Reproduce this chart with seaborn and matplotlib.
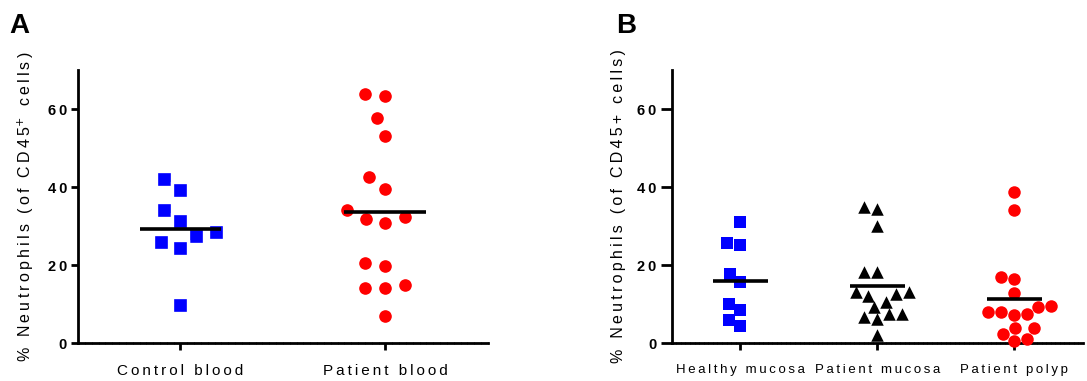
import pandas as pd
import matplotlib.pyplot as plt
import seaborn as sns
from matplotlib.ticker import MultipleLocator

# Panel A: neutrophils in blood
control_blood = [42.0, 39.2, 34.1, 31.4, 28.4, 27.4, 25.9, 24.3, 9.7]
patient_blood = [63.9, 63.4, 57.7, 53.2, 42.5, 39.5, 34.0, 32.3, 31.9, 30.8,
                 20.4, 19.7, 14.8, 14.1, 14.1, 7.0]

# Panel B: neutrophils in tissue
healthy_mucosa = [31.0, 25.7, 25.1, 17.6, 15.6, 10.0, 8.5, 5.9, 4.4]
patient_mucosa = [35.0, 34.3, 30.1, 18.1, 18.1, 13.2, 13.0, 12.5, 12.1, 10.6,
                  9.2, 7.4, 7.4, 6.7, 6.1, 2.1]
patient_polyp = [38.6, 34.1, 17.0, 16.3, 12.7, 9.6, 9.3, 8.0, 8.0, 7.4, 7.2,
                 3.9, 3.8, 2.4, 1.1, 0.6]

labels_a = ['Control blood', 'Patient blood']
labels_b = ['Healthy mucosa', 'Patient mucosa', 'Patient polyp']
yticks = [0, 20, 40, 60]

sns.set_style('ticks')
plt.rcParams['font.family'] = ['Liberation Sans', 'DejaVu Sans']
for key in ['text.color', 'axes.labelcolor', 'xtick.color', 'ytick.color',
            'axes.edgecolor']:
    plt.rcParams[key] = 'black'

THIN = '\u2009'


def spaced(s):
    # GraphPad-style wide letter spacing
    return THIN.join(s)


def make_df(groups, labels):
    rows = []
    for lab, vals in zip(labels, groups):
        for v in vals:
            rows.append({'group': lab, 'value': v})
    return pd.DataFrame(rows)


df_a = make_df([control_blood, patient_blood], labels_a)
df_b = make_df([healthy_mucosa, patient_mucosa, patient_polyp], labels_b)

styles_a = {'Control blood': ('s', '#0000ff'), 'Patient blood': ('o', '#ff0000')}
styles_b = {'Healthy mucosa': ('s', '#0000ff'),
            'Patient mucosa': ('^', 'black'),
            'Patient polyp': ('o', '#ff0000')}

fig = plt.figure(figsize=(10.87, 3.81), dpi=100)
ax_a = fig.add_axes([0.0718, 0.0997, 0.377, 0.7165])
ax_b = fig.add_axes([0.618, 0.0997, 0.378, 0.7165])


def draw_panel(ax, df, labels, styles, ylabel, ytick_len, xfs, msize, edge):
    for lab in labels:
        marker, color = styles[lab]
        sns.swarmplot(data=df[df['group'] == lab], x='group', y='value',
                      order=labels, marker=marker, color=color, size=msize,
                      linewidth=edge, edgecolor='white', ax=ax)
    means = df.groupby('group')['value'].mean()
    for i, lab in enumerate(labels):
        ax.hlines(means[lab], i - 0.2, i + 0.2, color='black', lw=2.6, zorder=5)
    for c in ax.collections:
        c.set_clip_on(False)
    ax.set_xlim(-0.5, len(labels) - 0.5)
    ax.set_ylim(0, 70)
    ax.set_yticks(yticks)
    ax.set_yticklabels([spaced(str(t)) for t in yticks], fontweight='bold')
    ax.set_xticks(range(len(labels)))
    ax.set_xticklabels([spaced(l) for l in labels])
    ax.set_xlabel('')
    ax.set_ylabel(ylabel, fontsize=11.5, labelpad=8)
    sns.despine(ax=ax)
    for side in ['left', 'bottom']:
        ax.spines[side].set_linewidth(2)
    ax.tick_params(axis='y', width=2, length=ytick_len, labelsize=10.5, pad=3)
    ax.tick_params(axis='x', width=2, length=5, labelsize=xfs, pad=10)
    ax.xaxis.set_minor_locator(MultipleLocator(1 / 30))
    ax.tick_params(axis='x', which='minor', length=2, width=0.6, direction='inout')


ylab_a = spaced('% Neutrophils (of CD45') + '$^{+}$' + THIN + spaced(' cells)')
ylab_b = spaced('% Neutrophils (of CD45+ cells)')
draw_panel(ax_a, df_a, labels_a, styles_a, ylab_a, 5, 11, 11.5, 2.4)
draw_panel(ax_b, df_b, labels_b, styles_b, ylab_b, 8, 9.5, 9, 0)

fig.text(0.009, 0.913, 'A', fontsize=20, fontweight='bold')
fig.text(0.567, 0.913, 'B', fontsize=20, fontweight='bold')

plt.savefig('out.png', dpi=100)
